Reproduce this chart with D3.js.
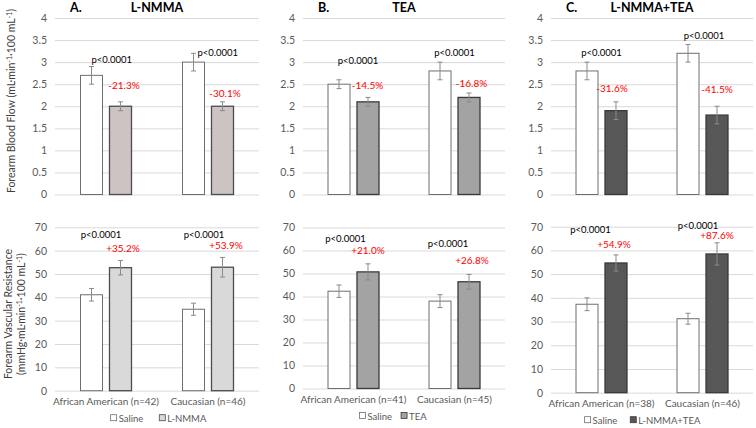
<!DOCTYPE html>
<html>
<head>
<meta charset="utf-8">
<script src="https://cdn.jsdelivr.net/npm/d3@7"></script>
<style>
  html, body { margin: 0; padding: 0; background: #fff; }
  svg { display: block; font-family: Lato, "Open Sans", sans-serif; }
</style>
</head>
<body>
<svg id="chart" width="756" height="428"></svg>
<script>
// ---------------- DATA ----------------
const groups = ["African American", "Caucasian"];
const series = ["Saline", "Drug"];
const panelLetters = ["A.", "B.", "C."];
const drugNames = ["L-NMMA", "TEA", "L-NMMA+TEA"];
const nCounts = [[42, 46], [41, 45], [38, 46]];

// Forearm blood flow (top row)
const fbfSaline    = [[2.7, 3.0], [2.5, 2.8], [2.8, 3.2]];
const fbfSalineErr = [[0.2, 0.2], [0.1, 0.2], [0.2, 0.2]];
const fbfDrug      = [[2.0, 2.0], [2.1, 2.2], [1.9, 1.8]];
const fbfDrugErr   = [[0.1, 0.1], [0.1, 0.1], [0.2, 0.2]];
const fbfPct       = [["-21.3%", "-30.1%"], ["-14.5%", "-16.8%"], ["-31.6%", "-41.5%"]];
const fbfTicks     = [0, 0.5, 1, 1.5, 2, 2.5, 3, 3.5, 4];

// Forearm vascular resistance (bottom row)
const fvrSaline    = [[41.1, 34.9], [42.3, 38.0], [37.3, 31.2]];
const fvrSalineErr = [[2.7, 2.6], [2.7, 2.8], [2.7, 2.3]];
const fvrDrug      = [[52.7, 52.9], [50.7, 46.4], [54.7, 58.5]];
const fvrDrugErr   = [[3.1, 4.2], [3.5, 3.2], [3.4, 4.7]];
const fvrPct       = [["+35.2%", "+53.9%"], ["+21.0%", "+26.8%"], ["+54.9%", "+87.6%"]];
const fvrTicks     = [0, 10, 20, 30, 40, 50, 60, 70];

const pText = "p<0.0001";

// ---------------- LAYOUT / STYLE ----------------
const panelX = [[55, 259], [303, 505], [551, 753]];
const topY = [[194.5, 18], [194.5, 18], [194.5, 18]];
const botY = [[390.7, 227.3], [388.5, 227.5], [392.7, 226.7]];
const drugFill = [["#cdc3c3", "#d9d9d9"], ["#a3a3a3", "#a3a3a3"], ["#575757", "#575757"]];
const drugStroke = ["#4d4d4d", "#3a3a3a", "#3a3a3a"];
const legendCx = [158.5, 393, 642.5];
const legendGap = [16, 9, 13];
// annotation placement: [dx from group centre, y in data units]
const fbfPPos = [[[5.7, 3.06], [9.7, 3.21]], [[4.5, 3.03], [0, 3.22]], [[0, 3.21], [1.5, 3.6]]];
const fbfRPos = [[[18, 2.48], [17, 2.28]], [[14, 2.48], [17, 2.52]], [[10.5, 2.41], [14.5, 2.37]]];
const fvrPPos = [[[-5, 66.7], [-4, 66.7]], [[-8, 65], [-6.5, 62.8]], [[-11, 68.6], [-4.5, 70.6]]];
const fvrRPos = [[[17, 61], [18, 62.4]], [[14.5, 59.9], [17.5, 55.6]], [[12.5, 62.7], [14.5, 66.3]]];

const svg = d3.select("#chart");
const gridColor = "#d9d9d9";
const tickColor = "#595959";
const errColor = "#8a8a8a";

function drawPanel(pi, yRange, ticks, sal, salErr, drg, drgErr, pct, pPos, rPos, isBottom) {
  const x = d3.scaleBand().domain(groups).range(panelX[pi]).paddingInner(0).paddingOuter(0);
  const xs = d3.scaleBand().domain(series).range([-25.5, 25.5]).paddingInner(0.241).paddingOuter(0);
  const y = d3.scaleLinear().domain([0, ticks[ticks.length - 1]]).range(yRange[pi]);
  const w = panelX[pi][1] - panelX[pi][0];

  const g = svg.append("g");
  const ax = g.append("g").attr("transform", `translate(${panelX[pi][0]},0)`)
    .call(d3.axisLeft(y).tickValues(ticks).tickFormat(d => String(d)).tickSize(-w).tickPadding(8));
  ax.select(".domain").remove();
  ax.selectAll(".tick line").attr("stroke", gridColor).attr("stroke-width", 1);
  ax.selectAll(".tick text").attr("fill", tickColor).attr("font-size", 10.5)
    .attr("font-family", "Lato, sans-serif");

  const rows = groups.map((gname, gi) => ({
    gname, gi,
    vals: [
      { s: "Saline", v: sal[pi][gi], e: salErr[pi][gi] },
      { s: "Drug", v: drg[pi][gi], e: drgErr[pi][gi] }
    ]
  }));

  const gg = g.selectAll("g.grp").data(rows).enter().append("g")
    .attr("transform", d => `translate(${x(d.gname) + x.bandwidth() / 2},0)`);

  gg.selectAll("rect").data(d => d.vals).enter().append("rect")
    .attr("x", d => xs(d.s))
    .attr("width", xs.bandwidth())
    .attr("y", d => y(d.v))
    .attr("height", d => y(0) - y(d.v))
    .attr("fill", d => d.s === "Saline" ? "#ffffff" : drugFill[pi][isBottom ? 1 : 0])
    .attr("stroke", d => d.s === "Saline" ? "#6f6f6f" : drugStroke[pi])
    .attr("stroke-width", d => d.s === "Saline" ? 1 : 1.3);

  const eb = gg.selectAll("g.err").data(d => d.vals).enter().append("g")
    .attr("stroke", errColor).attr("stroke-width", 1);
  const cxOf = d => xs(d.s) + xs.bandwidth() / 2;
  eb.append("line")
    .attr("x1", cxOf).attr("x2", cxOf)
    .attr("y1", d => y(d.v + d.e)).attr("y2", d => y(d.v - d.e));
  eb.append("line")
    .attr("x1", d => cxOf(d) - 2.5).attr("x2", d => cxOf(d) + 2.5)
    .attr("y1", d => y(d.v + d.e)).attr("y2", d => y(d.v + d.e));
  eb.append("line")
    .attr("x1", d => cxOf(d) - 2.5).attr("x2", d => cxOf(d) + 2.5)
    .attr("y1", d => y(d.v - d.e)).attr("y2", d => y(d.v - d.e));

  // annotations
  gg.append("text")
    .attr("x", d => pPos[pi][d.gi][0])
    .attr("y", d => y(pPos[pi][d.gi][1]))
    .attr("dy", "0.35em")
    .attr("text-anchor", "middle")
    .attr("font-size", 9.5)
    .attr("fill", "#000")
    .text(pText);
  gg.append("text")
    .attr("x", d => rPos[pi][d.gi][0])
    .attr("y", d => y(rPos[pi][d.gi][1]))
    .attr("dy", "0.35em")
    .attr("text-anchor", "middle")
    .attr("font-size", 10)
    .attr("fill", "#ff0000")
    .text(d => pct[pi][d.gi]);

  if (isBottom) {
    gg.append("text")
      .attr("x", 0)
      .attr("y", y(0) + 14)
      .attr("text-anchor", "middle")
      .attr("font-size", 10)
      .attr("fill", tickColor)
      .text(d => `${d.gname} (n=${nCounts[pi][d.gi]})`);

    // legend
    const items = ["Saline", drugNames[pi]];
    const lg = g.append("g").attr("transform", `translate(0,${y(0) + 31})`);
    const parts = items.map((t, i) => {
      const r = lg.append("rect").attr("y", -7).attr("width", 6).attr("height", 6)
        .attr("fill", i === 0 ? "#fff" : drugFill[pi][1])
        .attr("stroke", i === 0 ? "#6f6f6f" : drugStroke[pi]).attr("stroke-width", 0.8);
      const tx = lg.append("text").attr("y", 0).attr("font-size", 9.5).attr("fill", tickColor).text(t);
      return { r, tx, w: 8 + tx.node().getComputedTextLength() };
    });
    const total = parts[0].w + parts[1].w + legendGap[pi];
    let xx = legendCx[pi] - total / 2;
    parts.forEach(p => {
      p.r.attr("x", xx);
      p.tx.attr("x", xx + 8);
      xx += p.w + legendGap[pi];
    });
  } else {
    // panel title
    const tg = g.append("g").attr("font-weight", "bold").attr("font-size", 12.5).attr("fill", "#000");
    tg.append("text").attr("x", panelX[pi][0] + 15).attr("y", 12).text(panelLetters[pi]);
    tg.append("text").attr("x", (panelX[pi][0] + panelX[pi][1]) / 2).attr("y", 12)
      .attr("text-anchor", "middle").text(drugNames[pi]);
  }
}

for (let pi = 0; pi < 3; pi++) {
  drawPanel(pi, topY, fbfTicks, fbfSaline, fbfSalineErr, fbfDrug, fbfDrugErr, fbfPct, fbfPPos, fbfRPos, false);
  drawPanel(pi, botY, fvrTicks, fvrSaline, fvrSalineErr, fvrDrug, fvrDrugErr, fvrPct, fvrPPos, fvrRPos, true);
}

// Y axis titles (superscripts via dy shifts on the following tspan)
function supText(sel, parts) {
  let shift = 0;
  parts.forEach(p => {
    const target = p.sup ? -3.5 : 0;
    const ts = sel.append("tspan").attr("dy", target - shift).text(p.t);
    if (p.sup) ts.attr("font-size", 7);
    shift = target;
  });
}
const t1 = svg.append("text")
  .attr("transform", "translate(15,101) rotate(-90)")
  .attr("text-anchor", "middle").attr("font-size", 10.5).attr("fill", "#404040");
supText(t1, [{t: "Forearm Blood Flow (mL\u00b7min"}, {t: "-1", sup: true}, {t: "\u00b7100 mL"}, {t: "-1", sup: true}, {t: ")"}]);

svg.append("text")
  .attr("transform", "translate(12,314) rotate(-90)")
  .attr("text-anchor", "middle").attr("font-size", 10.5).attr("fill", "#404040")
  .text("Forearm Vascular Resistance");
const t3 = svg.append("text")
  .attr("transform", "translate(25,314) rotate(-90)")
  .attr("text-anchor", "middle").attr("font-size", 10.5).attr("fill", "#404040");
supText(t3, [{t: "(mmHg\u00b7mL\u00b7min"}, {t: "-1", sup: true}, {t: "\u00b7100 mL"}, {t: "-1", sup: true}, {t: ")"}]);
</script>
</body>
</html>
